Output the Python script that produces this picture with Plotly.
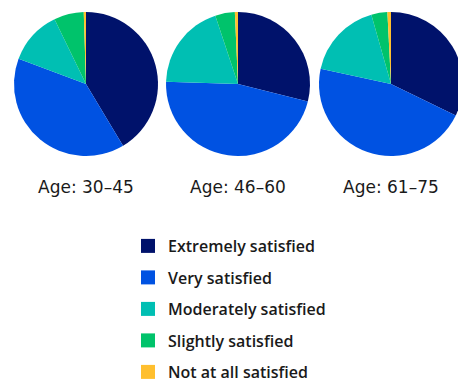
import plotly.graph_objects as go

# Satisfaction levels and their colours
levels = ["Extremely satisfied", "Very satisfied", "Moderately satisfied",
          "Slightly satisfied", "Not at all satisfied"]
colors = ["#00126b", "#0052e2", "#00bfb3", "#00c36b", "#ffbf2e"]

# Share of respondents (%) per age band
age_groups = ["Age: 30\u201345", "Age: 46\u201360", "Age: 61\u201375"]
share_30_45 = [41.4, 39.3, 12.1, 6.7, 0.5]
share_46_60 = [28.9, 46.6, 19.4, 4.4, 0.7]
share_61_75 = [32.2, 46.2, 17.2, 3.6, 0.8]
shares = [share_30_45, share_46_60, share_61_75]

# The row of pies runs slightly past the right edge of the page
W, H = 464, 380
R = 72
centers_x = [86, 238, 391]
center_y = 84

fig = go.Figure()
for name, vals, cx in zip(age_groups, shares, centers_x):
    x0 = max(cx - R, 0) / W
    x1 = min(cx + R, W) / W
    fig.add_trace(go.Pie(
        labels=levels, values=vals, name=name,
        sort=False, direction="clockwise", rotation=0,
        marker=dict(colors=colors, line=dict(width=0)),
        textinfo="none", hoverinfo="label+percent",
        showlegend=False,
        domain=dict(x=[x0, x1],
                    y=[(H - center_y - R) / H, (H - center_y + R) / H]),
    ))
    fig.add_annotation(
        text=name, x=cx / W, y=(H - 187) / H, xref="paper", yref="paper",
        showarrow=False, xanchor="center", yanchor="middle",
        font=dict(size=17, color="#1a1a1a", family="DejaVu Sans"),
    )

# Legend entries, one group each so they can be spaced apart
for lvl, col in zip(levels, colors):
    fig.add_trace(go.Scatter(
        x=[None], y=[None], mode="markers", name=lvl, legendgroup=lvl,
        marker=dict(symbol="square", size=14, color=col),
        showlegend=True,
    ))

fig.update_layout(
    width=W, height=H,
    margin=dict(l=0, r=0, t=0, b=0, autoexpand=False),
    paper_bgcolor="white", plot_bgcolor="white",
    font=dict(family="Open Sans", color="#1a1a1a"),
    xaxis=dict(visible=False), yaxis=dict(visible=False),
    legend=dict(
        x=128 / W, y=(H - 229) / H, xanchor="left", yanchor="top",
        font=dict(size=16, family="Open Sans", weight=600),
        tracegroupgap=7.7, itemclick=False, itemdoubleclick=False,
        bgcolor="rgba(0,0,0,0)",
    ),
)

fig.write_html(
    "out.html",
    post_script="document.documentElement.style.overflow='hidden';"
                "document.body.style.overflow='hidden';",
)
